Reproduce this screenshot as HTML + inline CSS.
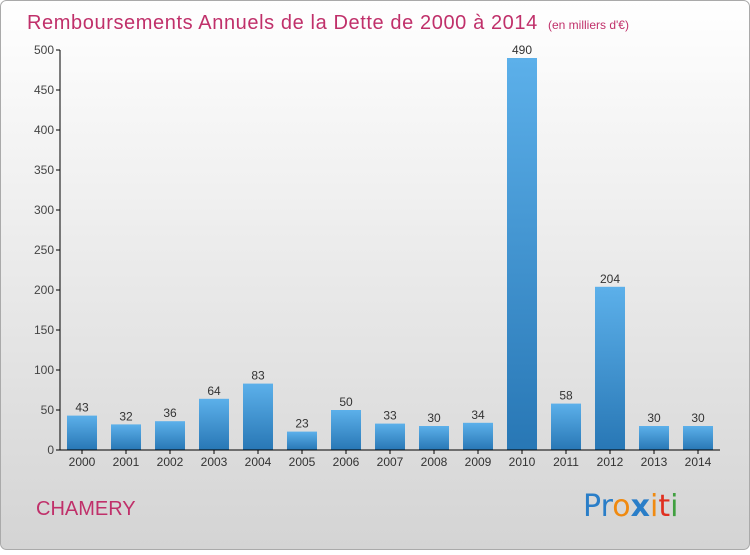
<!DOCTYPE html>
<html><head><meta charset="utf-8"><style>
body{margin:0;width:750px;height:550px;overflow:hidden;font-family:"Liberation Sans","DejaVu Sans",sans-serif}
</style></head><body>
<svg id="chart" width="750" height="550" xmlns="http://www.w3.org/2000/svg">
<defs>
<linearGradient id="bg" x1="0" y1="0" x2="0" y2="1"><stop offset="0" stop-color="#ffffff"/><stop offset="1" stop-color="#d4d4d4"/></linearGradient>
<linearGradient id="bar" x1="0" y1="0" x2="0" y2="1"><stop offset="0" stop-color="#5cb0ea"/><stop offset="1" stop-color="#2877b5"/></linearGradient>
</defs>
<rect x="0.5" y="0.5" width="749" height="549" rx="6" fill="url(#bg)" stroke="#aaa"/>
<text x="27" y="29" font-size="20" letter-spacing="0.6" fill="#c0306a">Remboursements Annuels de la Dette de 2000 à 2014 <tspan font-size="12" dx="4" letter-spacing="0">(en milliers d'€)</tspan></text>
<g id="yaxis"></g>
<g id="bars"></g>
<g id="xaxis"></g>
<text x="36" y="515" font-size="20" fill="#c0306a">CHAMERY</text>
<g font-size="30" font-family="'DejaVu Sans',sans-serif">
<text x="583" y="516"><tspan fill="#2a7ec8">Pr</tspan><tspan fill="#f08a10">o</tspan><tspan fill="#2a7ec8" font-weight="bold">x</tspan><tspan fill="#f08a10">i</tspan><tspan fill="#e03020">t</tspan><tspan fill="#40a040">i</tspan></text>
</g>
</svg>
<script>
const categories=["2000","2001","2002","2003","2004","2005","2006","2007","2008","2009","2010","2011","2012","2013","2014"];
const values=[43,32,36,64,83,23,50,33,30,34,490,58,204,30,30];
const yTicks=[0,50,100,150,200,250,300,350,400,450,500];
const NS="http://www.w3.org/2000/svg";
const y=v=>450-v*0.8;
const x=i=>82+i*44;
function mk(t,a,p){const e=document.createElementNS(NS,t);for(const k in a)e.setAttribute(k,a[k]);p.appendChild(e);return e;}
const ya=document.getElementById('yaxis'),ba=document.getElementById('bars'),xa=document.getElementById('xaxis');
mk('line',{x1:60,y1:50,x2:60,y2:450,stroke:'#000'},ya);
mk('line',{x1:60,y1:450,x2:720,y2:450,stroke:'#000'},xa);
yTicks.forEach(t=>{
 const l=mk('line',{x1:56,y1:y(t),x2:60,y2:y(t),stroke:'#000'},ya);
 
 
 const tx=mk('text',{x:54,y:y(t)+4,'text-anchor':'end','font-size':12,fill:'#444'},ya);
 tx.textContent=t;
 
 
});
categories.forEach((c,i)=>{
 const r=mk('rect',{x:x(i)-15,y:y(values[i]),width:30,height:450-y(values[i]),fill:'url(#bar)'},ba);
 
 
 const v=mk('text',{x:x(i),y:y(values[i])-4,'text-anchor':'middle','font-size':12,fill:'#333'},ba);
 v.textContent=values[i];
 
 
 const tk=mk('line',{x1:x(i),y1:450,x2:x(i),y2:454,stroke:'#000'},xa);
 
 
 const lb=mk('text',{x:x(i),y:466,'text-anchor':'middle','font-size':12,fill:'#333'},xa);
 lb.textContent=c;
 
 
});
</script>
</body></html>
